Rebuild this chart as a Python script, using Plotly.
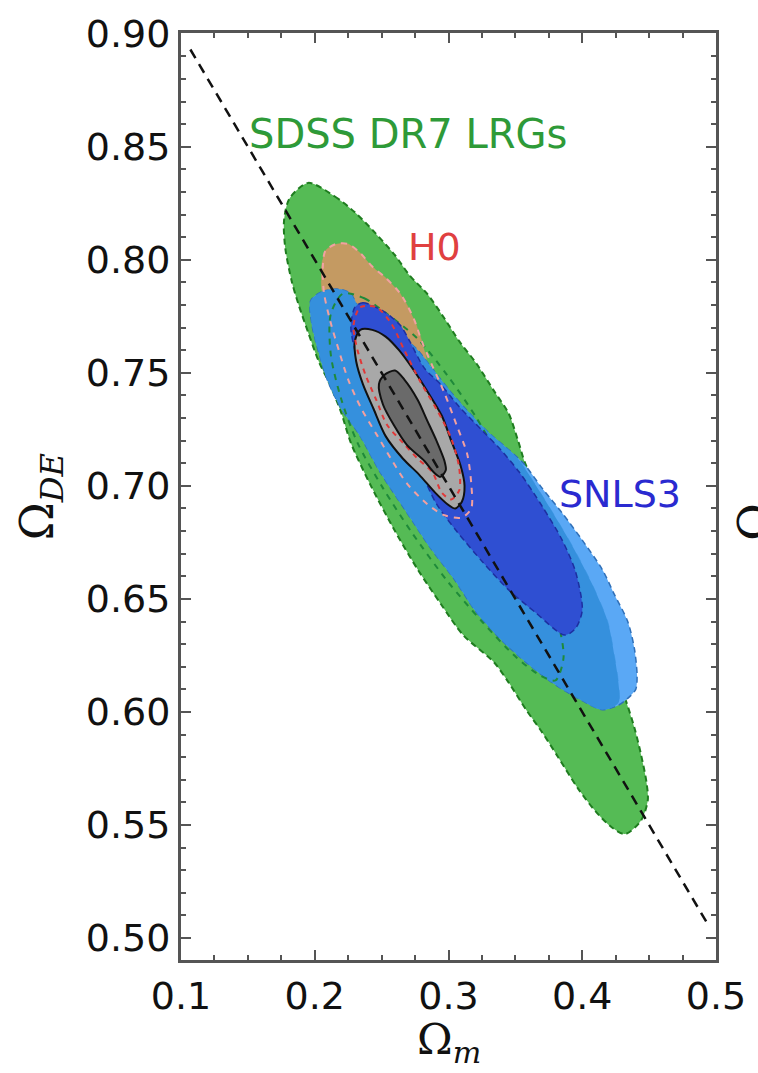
import plotly.graph_objects as go

# ---------------- data ----------------
x_ticks = [0.1, 0.2, 0.3, 0.4, 0.5]
x_tick_labels = ["0.1", "0.2", "0.3", "0.4", "0.5"]
y_ticks = [0.50, 0.55, 0.60, 0.65, 0.70, 0.75, 0.80, 0.85, 0.90]
y_tick_labels = ["0.50", "0.55", "0.60", "0.65", "0.70", "0.75", "0.80", "0.85", "0.90"]

# SDSS DR7 LRGs outer (2 sigma) contour
sdss_om = [0.195, 0.215, 0.230, 0.245, 0.260, 0.271, 0.284, 0.297, 0.308, 0.321, 0.334, 0.345,
           0.352, 0.358, 0.375, 0.393, 0.407, 0.419, 0.424, 0.427, 0.432, 0.439, 0.444, 0.448,
           0.449, 0.444, 0.432, 0.422, 0.410, 0.397, 0.382, 0.370, 0.358, 0.345, 0.334, 0.311,
           0.294, 0.277, 0.260, 0.242, 0.227, 0.220, 0.212, 0.203, 0.195, 0.188, 0.183, 0.178,
           0.177, 0.181]
sdss_ode = [0.834, 0.828, 0.821, 0.812, 0.802, 0.793, 0.785, 0.774, 0.764, 0.754, 0.742, 0.732,
            0.720, 0.709, 0.691, 0.673, 0.657, 0.640, 0.625, 0.613, 0.606, 0.593, 0.581, 0.569,
            0.561, 0.552, 0.546, 0.549, 0.556, 0.566, 0.580, 0.591, 0.601, 0.613, 0.622, 0.634,
            0.648, 0.663, 0.680, 0.700, 0.719, 0.732, 0.744, 0.755, 0.768, 0.780, 0.790, 0.805,
            0.817, 0.827]

# SDSS 1 sigma contour (dashed line)
sdss1_om = [0.221, 0.237, 0.252, 0.277, 0.299, 0.321, 0.343, 0.359, 0.373, 0.382, 0.386, 0.380,
            0.369, 0.351, 0.325, 0.299, 0.273, 0.251, 0.232, 0.220, 0.212, 0.212]
sdss1_ode = [0.785, 0.783, 0.777, 0.765, 0.749, 0.730, 0.706, 0.681, 0.659, 0.640, 0.624, 0.614,
             0.616, 0.624, 0.640, 0.658, 0.679, 0.699, 0.719, 0.738, 0.758, 0.776]

# H0 2 sigma region (visible tan part)
h0_fill_om = [0.206, 0.205, 0.208, 0.216, 0.225, 0.234, 0.243, 0.253, 0.264, 0.274, 0.280, 0.283,
              0.247, 0.210]
h0_fill_ode = [0.784, 0.796, 0.804, 0.807, 0.807, 0.803, 0.797, 0.792, 0.785, 0.774, 0.764, 0.754,
               0.763, 0.780]

# H0 2 sigma contour (dashed)
h0_2_om = [0.207, 0.206, 0.208, 0.216, 0.225, 0.234, 0.243, 0.253, 0.264, 0.274, 0.280, 0.288,
           0.297, 0.306, 0.314, 0.317, 0.317, 0.310, 0.297, 0.284, 0.269, 0.258, 0.247, 0.235,
           0.225, 0.218, 0.212]
h0_2_ode = [0.785, 0.796, 0.804, 0.807, 0.807, 0.803, 0.797, 0.792, 0.785, 0.774, 0.764, 0.753,
            0.741, 0.727, 0.714, 0.701, 0.690, 0.686, 0.687, 0.692, 0.701, 0.711, 0.722, 0.734,
            0.747, 0.760, 0.772]

# H0 1 sigma contour (dashed)
h0_1_om = [0.229, 0.234, 0.246, 0.257, 0.267, 0.279, 0.291, 0.302, 0.308, 0.308, 0.302, 0.295,
           0.288, 0.277, 0.266, 0.254, 0.246, 0.238, 0.232]
h0_1_ode = [0.771, 0.779, 0.779, 0.772, 0.760, 0.746, 0.734, 0.721, 0.708, 0.698, 0.694, 0.697,
            0.706, 0.712, 0.719, 0.727, 0.738, 0.749, 0.760]

# SNLS3 outer (2 sigma) contour
snls2_om = [0.197, 0.206, 0.218, 0.227, 0.232, 0.243, 0.254, 0.266, 0.277, 0.289, 0.301, 0.316,
            0.331, 0.343, 0.356, 0.370, 0.385, 0.400, 0.415, 0.424, 0.434, 0.439, 0.441, 0.440,
            0.434, 0.427, 0.415, 0.400, 0.380, 0.360, 0.341, 0.321, 0.304, 0.286, 0.268, 0.249,
            0.234, 0.220, 0.210, 0.203, 0.198]
snls2_ode = [0.782, 0.786, 0.787, 0.785, 0.780, 0.777, 0.772, 0.766, 0.760, 0.751, 0.742, 0.732,
             0.723, 0.717, 0.710, 0.699, 0.688, 0.676, 0.663, 0.652, 0.640, 0.628, 0.616, 0.610,
             0.606, 0.603, 0.601, 0.605, 0.612, 0.621, 0.631, 0.644, 0.659, 0.673, 0.689, 0.706,
             0.722, 0.734, 0.746, 0.759, 0.771]

# SNLS3 2 sigma region overlapping SDSS (medium blue)
snls_ovl_om = [0.197, 0.206, 0.218, 0.227, 0.232, 0.243, 0.254, 0.266, 0.277, 0.289, 0.301, 0.316,
               0.331, 0.343, 0.352, 0.359, 0.375, 0.393, 0.407, 0.419, 0.424, 0.427, 0.427,
               0.415, 0.400, 0.380, 0.360, 0.341, 0.321, 0.304, 0.286, 0.268, 0.249,
               0.234, 0.220, 0.210, 0.203, 0.198]
snls_ovl_ode = [0.782, 0.786, 0.787, 0.785, 0.780, 0.777, 0.772, 0.766, 0.760, 0.751, 0.742, 0.732,
                0.723, 0.717, 0.712, 0.706, 0.691, 0.673, 0.657, 0.640, 0.625, 0.613, 0.604,
                0.601, 0.605, 0.612, 0.621, 0.631, 0.644, 0.659, 0.673, 0.689, 0.706,
                0.722, 0.734, 0.746, 0.759, 0.771]

# SNLS3 1 sigma region (dark blue)
snls1_om = [0.230, 0.236, 0.252, 0.264, 0.271, 0.282, 0.294, 0.308, 0.326, 0.339, 0.353, 0.370,
            0.385, 0.395, 0.400, 0.395, 0.387, 0.365, 0.345, 0.326, 0.306, 0.291, 0.279, 0.267,
            0.254, 0.245, 0.237, 0.230, 0.227]
snls1_ode = [0.779, 0.781, 0.777, 0.771, 0.764, 0.752, 0.745, 0.735, 0.724, 0.716, 0.706, 0.691,
             0.676, 0.662, 0.645, 0.637, 0.634, 0.644, 0.654, 0.666, 0.680, 0.692, 0.706, 0.714,
             0.724, 0.735, 0.746, 0.760, 0.770]

# Combined 2 sigma (light gray) and 1 sigma (dark gray)
comb2_om = [0.234, 0.243, 0.253, 0.263, 0.273, 0.284, 0.295, 0.302, 0.309, 0.312, 0.310, 0.305,
            0.299, 0.290, 0.278, 0.266, 0.253, 0.244, 0.236, 0.231, 0.230]
comb2_ode = [0.769, 0.769, 0.766, 0.760, 0.752, 0.742, 0.731, 0.720, 0.709, 0.700, 0.693, 0.690,
             0.692, 0.697, 0.705, 0.712, 0.722, 0.734, 0.745, 0.755, 0.764]
comb1_om = [0.252, 0.260, 0.267, 0.277, 0.284, 0.291, 0.297, 0.298, 0.294, 0.289, 0.282, 0.269,
            0.259, 0.251, 0.248]
comb1_ode = [0.749, 0.751, 0.747, 0.738, 0.729, 0.720, 0.711, 0.707, 0.704, 0.706, 0.711, 0.718,
             0.727, 0.736, 0.745]

# flat universe line: Omega_m + Omega_DE = 1
flat_om = [0.107, 0.494]
flat_ode = [1 - v for v in flat_om]


def closed(seq):
    return list(seq) + [seq[0]]


fig = go.Figure()


def fill_region(xs, ys, fill, edge=None, dash="dash", width=2):
    fig.add_trace(go.Scatter(
        x=closed(xs), y=closed(ys), mode="lines", fill="toself",
        fillcolor=fill,
        line=dict(color=edge if edge else fill, width=width if edge else 0.5, dash=dash,
                  shape="spline", smoothing=0.8),
        hoverinfo="skip", showlegend=False))


def contour_line(xs, ys, color, dash="dash", width=2):
    fig.add_trace(go.Scatter(
        x=closed(xs), y=closed(ys), mode="lines",
        line=dict(color=color, width=width, dash=dash, shape="spline", smoothing=0.8),
        hoverinfo="skip", showlegend=False))


fill_region(sdss_om, sdss_ode, "#55bb55", "#1f7d1f", dash="6px,4px")
fill_region(h0_fill_om, h0_fill_ode, "#c49a62")
fill_region(snls2_om, snls2_ode, "#5aa8f5", "#2f6fb8", dash="6px,4px", width=1.5)
fill_region(snls_ovl_om, snls_ovl_ode, "#3590dd")
contour_line(sdss1_om, sdss1_ode, "#1f8a3a", dash="6px,6px", width=2)
fill_region(snls1_om, snls1_ode, "#2f4fd2", "#1d2fa0", dash="6px,4px", width=1.5)
contour_line(h0_2_om, h0_2_ode, "#f2a0a0", dash="6px,6px", width=2)
fill_region(comb2_om, comb2_ode, "#a8a8a8", "#111111", dash="solid", width=2)
contour_line(h0_1_om, h0_1_ode, "#e03838", dash="5px,5px", width=2)
fill_region(comb1_om, comb1_ode, "#6a6a6a", "#111111", dash="solid", width=2)

fig.add_trace(go.Scatter(
    x=flat_om, y=flat_ode, mode="lines",
    line=dict(color="#111111", width=2.5, dash="10px,7px"),
    hoverinfo="skip", showlegend=False))

axis_common = dict(
    showline=True, linewidth=3, linecolor="#555555", mirror="ticks",
    ticks="inside", ticklen=10, tickwidth=2, tickcolor="#555555",
    showgrid=False, zeroline=False,
    tickfont=dict(family="DejaVu Sans", size=38, color="#111111"),
)

fig.update_xaxes(range=[0.1, 0.5], tickvals=x_ticks, ticktext=x_tick_labels,
                 minor=dict(dtick=0.025, tick0=0.1, ticks="inside", ticklen=5, tickwidth=1.5,
                            tickcolor="#555555"),
                 **axis_common)
fig.update_yaxes(range=[0.4903, 0.9003], tickvals=y_ticks, ticktext=y_tick_labels,
                 minor=dict(dtick=0.01, tick0=0.5, ticks="inside", ticklen=5, tickwidth=1.5,
                            tickcolor="#555555"),
                 **axis_common)

annotations = [
    dict(x=0.1490, y=0.8557, xref="x", yref="y", text="SDSS DR7 LRGs", showarrow=False,
         xanchor="left", yanchor="middle",
         font=dict(family="DejaVu Sans", size=40, color="#2e9a38")),
    dict(x=0.2893, y=0.8056, xref="x", yref="y", text="H0", showarrow=False,
         xanchor="center", yanchor="middle",
         font=dict(family="DejaVu Sans", size=38, color="#e04040")),
    dict(x=0.4280, y=0.6963, xref="x", yref="y", text="SNLS3", showarrow=False,
         xanchor="center", yanchor="middle",
         font=dict(family="DejaVu Sans", size=38, color="#2a2ad0")),
    dict(x=0.5, y=-0.056, xref="paper", yref="paper", text="Ω<sub><i>m</i></sub>",
         showarrow=False, xanchor="center", yanchor="top",
         font=dict(family="DejaVu Serif", size=43, color="#111111")),
    dict(x=-0.262, y=0.50, xref="paper", yref="paper", text="Ω<sub><i>DE</i></sub>",
         showarrow=False, xanchor="center", yanchor="middle", textangle=-90,
         font=dict(family="DejaVu Serif", size=46, color="#111111")),
    dict(x=1.074, y=0.472, xref="paper", yref="paper", text="Ω",
         showarrow=False, xanchor="center", yanchor="middle", textangle=-90,
         font=dict(family="DejaVu Serif", size=46, color="#111111")),
]

fig.update_layout(
    width=758, height=1073,
    margin=dict(l=181, r=36, t=28, b=113),
    plot_bgcolor="white", paper_bgcolor="white",
    showlegend=False,
    annotations=annotations,
)

fig.write_html("out.html")
